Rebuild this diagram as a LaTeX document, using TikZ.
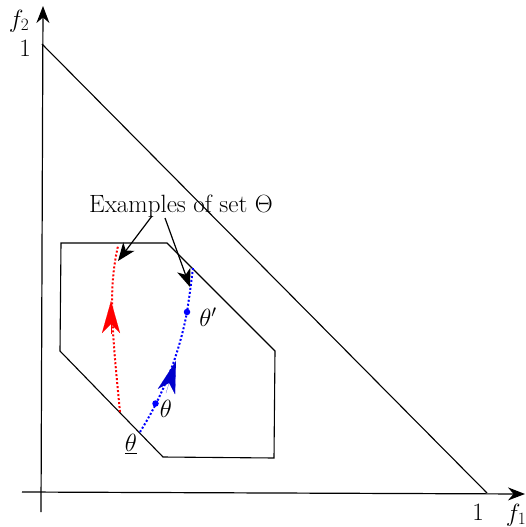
\documentclass[tikz,border=0pt]{standalone}
\usetikzlibrary{arrows.meta}
\begin{document}
\begin{tikzpicture}[x=1pt,y=-1pt,
  every node/.style={font=\fontsize{25}{30}\selectfont, inner sep=0pt},
  axis/.style={line width=1.2pt, -{Stealth[length=17pt,width=13pt]}},
  edge/.style={line width=1.1pt},
  note/.style={line width=1.2pt, -{Stealth[length=18pt,width=14pt,inset=5pt]}},
  redpath/.style={red, line width=2pt, dotted},
  bluepath/.style={blue, line width=2pt, dotted},
  redtip/.style={red, line width=0.1pt, -{Stealth[length=32pt,width=18pt,inset=9pt]}},
  bluetip/.style={blue!80!black, line width=0.1pt, -{Stealth[length=32pt,width=18pt,inset=9pt]}},
  pt/.style={circle, fill=blue, minimum size=6.5pt, inner sep=0pt}]
\useasboundingbox (0,0) rectangle (525,527);
% axes
\coordinate (yb) at (41,512);
\coordinate (yt) at (43,6);
\coordinate (xl) at (22,492);
\coordinate (xr) at (525,494);
\draw[axis] (yb) -- (yt);
\draw[axis] (xl) -- (xr);
\node (f2) at (19,21) {$f_2$};
\node (y1) at (25,48) {1};
\node (x1) at (478,512) {1};
\node (f1) at (516,515) {$f_1$};
% triangle diagonal
\coordinate (ta) at (42,44);
\coordinate (tb) at (487,493);
\draw[edge] (ta) -- (tb);
% polygon
\draw[edge] (61,243) -- (167,243) -- (275,351) -- (274,458) -- (163,457) -- (60,351) -- cycle;
% red path
\coordinate (r0) at (120,412);
\coordinate (r1) at (118,246);
\draw[redpath] (r0) .. controls (112,330) and (108,290) .. (r1);
\coordinate (ra) at (111,334);
\coordinate (rb) at (111,301);
\draw[redtip] (ra) -- (rb);
% blue path
\coordinate (b0) at (140,432);
\node[pt] (th) at (155.5,403.5) {};
\node[pt] (thp) at (187,312) {};
\coordinate (b1) at (193,268);
\draw[bluepath] (b0) .. controls (160,400) and (178,360) .. (thp.center) .. controls (190,292) .. (b1);
\coordinate (ba) at (166,393);
\coordinate (bb) at (176,361);
\draw[bluetip] (ba) -- (bb);
% labels
\node (lth) at (166,409) {$\theta$};
\node (lthp) at (208,317) {$\theta'$};
\node (lthl) at (131,444) {$\underline{\theta}$};
\node (ex) at (181,206) {Examples of set $\Theta$};
\coordinate (n1a) at (152,216);
\coordinate (n1b) at (118,261);
\coordinate (n2a) at (165,218);
\coordinate (n2b) at (190,287);
\draw[note] (n1a) -- (n1b);
\draw[note] (n2a) -- (n2b);
\end{tikzpicture}
\end{document}
